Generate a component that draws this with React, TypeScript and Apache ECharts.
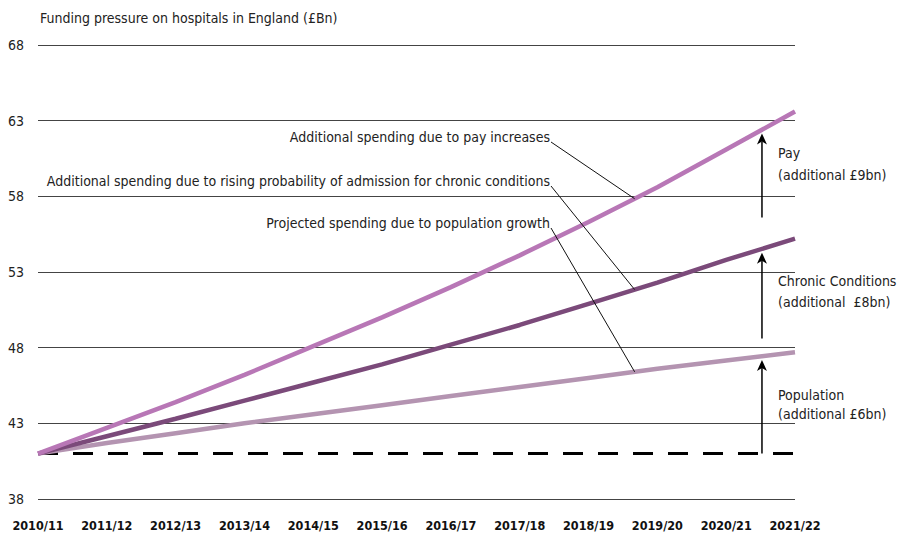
import React, { useEffect, useRef } from "react";
import * as echarts from "echarts";

const years = ["2010/11", "2011/12", "2012/13", "2013/14", "2014/15", "2015/16", "2016/17", "2017/18", "2018/19", "2019/20", "2020/21", "2021/22"];
const payValues = [41, 42.7, 44.4, 46.2, 48.1, 50.0, 52.0, 54.1, 56.3, 58.6, 61.1, 63.6];
const chronicValues = [41, 42.15, 43.3, 44.5, 45.7, 46.9, 48.2, 49.5, 50.9, 52.3, 53.8, 55.2];
const populationValues = [41, 41.7, 42.35, 43.0, 43.6, 44.2, 44.8, 45.4, 46.0, 46.6, 47.15, 47.7];
const baselineValues = [41, 41, 41, 41, 41, 41, 41, 41, 41, 41, 41, 41];
const yMin = 38;
const yMax = 68;
const yInterval = 5;

const title = "Funding pressure on hospitals in England (£Bn)";
const calloutTexts = [
  "Additional spending due to pay increases",
  "Additional spending due to rising probability of admission for chronic conditions",
  "Projected spending due to population growth",
];
const sideTexts = [
  ["Pay", "(additional £9bn)"],
  ["Chronic Conditions", "(additional  £8bn)"],
  ["Population", "(additional £6bn)"],
];

const FONT = "'DejaVu Sans Condensed', 'Liberation Sans', sans-serif";
const COLORS = { pay: "#b877b6", chronic: "#7b4a7a", population: "#b494b1" };

function interp(arr: number[], t: number) {
  const i = Math.min(Math.floor(t), arr.length - 2);
  return arr[i] + (arr[i + 1] - arr[i]) * (t - i);
}

export default function App() {
  const ref = useRef<HTMLDivElement>(null);
  useEffect(() => {
    if (!ref.current) return;
    const chart = echarts.init(ref.current, null, { renderer: "svg" });
    chart.setOption({
      animation: false,
      grid: { left: 38, right: 103, top: 45, bottom: 39 },
      xAxis: {
        type: "category",
        data: years,
        boundaryGap: false,
        axisLine: { show: false },
        axisTick: { show: false },
        axisLabel: { fontFamily: FONT, fontWeight: "bold", fontSize: 12.5, color: "#111", margin: 20, interval: 0 },
        splitLine: { show: false },
      },
      yAxis: {
        type: "value",
        min: yMin,
        max: yMax,
        interval: yInterval,
        axisLine: { show: false },
        axisTick: { show: false },
        axisLabel: { fontFamily: FONT, fontSize: 14, color: "#222", align: "left", margin: 30 },
        splitLine: { show: true, lineStyle: { color: "#444", width: 1 } },
      },
      series: [
        { type: "line", data: baselineValues, symbol: "none", lineStyle: { color: "#000", width: 3, type: [20, 15] }, z: 1 },
        { type: "line", data: populationValues, symbol: "none", lineStyle: { color: COLORS.population, width: 4.5 }, z: 3 },
        { type: "line", data: chronicValues, symbol: "none", lineStyle: { color: COLORS.chronic, width: 4.5 }, z: 4 },
        { type: "line", data: payValues, symbol: "none", lineStyle: { color: COLORS.pay, width: 4.5 }, z: 5 },
      ],
    });

    const x0 = chart.convertToPixel({ xAxisIndex: 0 }, years[0]) as number;
    const x1 = chart.convertToPixel({ xAxisIndex: 0 }, years[1]) as number;
    const xAt = (t: number) => x0 + (x1 - x0) * t;
    const yAt = (v: number) => chart.convertToPixel({ yAxisIndex: 0 }, v) as number;

    const textStyle = (text: string, align: string, size = 14) => ({
      text,
      fill: "#222",
      font: `${size}px ${FONT}`,
      align,
      verticalAlign: "middle",
    });

    const graphic: any[] = [];
    graphic.push({ type: "text", x: 40, y: 18, style: textStyle(title, "left", 14) });

    // callouts
    const leaderT = 8.67;
    const callouts = [
      { text: calloutTexts[0], y: 137, arr: payValues },
      { text: calloutTexts[1], y: 181, arr: chronicValues },
      { text: calloutTexts[2], y: 223, arr: populationValues },
    ];
    callouts.forEach((c) => {
      graphic.push({ type: "text", x: 550, y: c.y, style: textStyle(c.text, "right") });
      graphic.push({
        type: "line",
        shape: { x1: 551, y1: c.y + 5, x2: xAt(leaderT), y2: yAt(interp(c.arr, leaderT)) },
        style: { stroke: "#111", lineWidth: 1 },
        z: 10,
      });
    });

    // arrows
    const arrowT = 10.52;
    const ax = xAt(arrowT);
    const arrows = [
      { from: 41, to: interp(populationValues, arrowT) - 0.25 },
      { from: 48.6, to: interp(chronicValues, arrowT) - 0.25 },
      { from: 56.6, to: interp(payValues, arrowT) - 0.25 },
    ];
    arrows.forEach((a) => {
      const yf = yAt(a.from);
      const yt = yAt(a.to);
      graphic.push({ type: "line", shape: { x1: ax, y1: yf, x2: ax, y2: yt + 8 }, style: { stroke: "#000", lineWidth: 1.5 }, z: 10 });
      graphic.push({
        type: "polygon",
        shape: { points: [[ax, yt], [ax - 5, yt + 11], [ax, yt + 8], [ax + 5, yt + 11]] },
        style: { fill: "#000" },
        z: 10,
      });
    });

    // side texts
    const sideY = [[153, 175], [281, 302], [395, 414]];
    sideTexts.forEach((lines, i) => {
      lines.forEach((l, j) => {
        graphic.push({ type: "text", x: 778, y: sideY[i][j], style: textStyle(l, "left") });
      });
    });

    chart.setOption({ graphic });
    return () => chart.dispose();
  }, []);
  return <div ref={ref} style={{ position: "absolute", left: 0, top: 0, width: 898, height: 538, background: "#fff" }} />;
}
